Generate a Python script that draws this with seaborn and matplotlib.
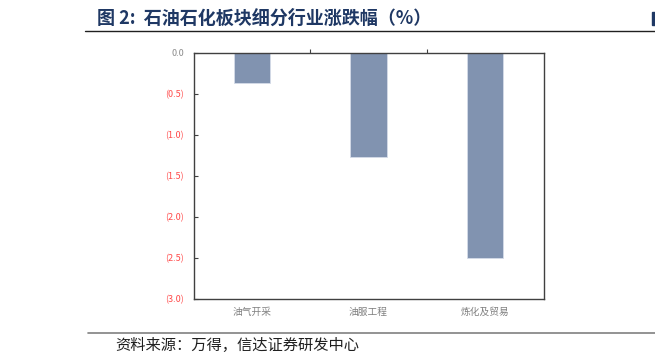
import matplotlib
matplotlib.use("Agg")
import matplotlib.pyplot as plt
import seaborn as sns
import pandas as pd
from matplotlib.ticker import FuncFormatter, FixedLocator

categories = ["油气开采", "油服工程", "炼化及贸易"]
values = [-0.37, -1.27, -2.50]
yticks = [0.0, -0.5, -1.0, -1.5, -2.0, -2.5, -3.0]

sns.set_theme(style="white")
plt.rcParams['font.family'] = ['Noto Sans CJK SC', 'DejaVu Sans']

fig = plt.figure(figsize=(6.55, 3.63), dpi=100)
ax = fig.add_axes([193.5/655, 1-298.5/363, 350/655, (298.5-52.7)/363])

df = pd.DataFrame({"cat": categories, "val": values})
sns.barplot(data=df, x="cat", y="val", order=categories, color="#8193B0",
            saturation=1, width=0.31, ax=ax, edgecolor="#D5DCE8", linewidth=0.6)

ax.set_ylim(-3.0, 0.0)
ax.set_xlim(-0.5, 2.5)
ax.set_yticks(yticks)
ax.yaxis.set_major_formatter(FuncFormatter(
    lambda v, p: "0.0" if abs(v) < 1e-9 else f"({abs(v):.1f})"))
ax.set_xlabel("")
ax.set_ylabel("")

for s in ax.spines.values():
    s.set_visible(True)
    s.set_color("#404040")
    s.set_linewidth(1.0)

ax.tick_params(axis="y", which="major", left=True, direction="in", length=3,
               width=0.8, color="#404040", labelsize=6.5, pad=7)
for lbl, v in zip(ax.get_yticklabels(), yticks):
    lbl.set_color("#8C8C8C" if v == 0 else "#FF4B4B")

ax.tick_params(axis="x", which="major", bottom=False, top=False, length=0,
               labelsize=7, labelcolor="#808080", pad=6)
ax.xaxis.set_minor_locator(FixedLocator([0.5, 1.5]))
ax.tick_params(axis="x", which="minor", top=True, bottom=False, direction="out",
               length=3, width=0.8, color="#404040")

# title and decorations
fig.text(97/655, 1-18/363, "图 2:  石油石化板块细分行业涨跌幅（%）", fontsize=13,
         fontweight="bold", color="#1F3864", va="center", ha="left")
fig.add_artist(plt.Line2D([85/655, 1.0], [1-31/363, 1-31/363], color="#202020",
                          linewidth=1.0, transform=fig.transFigure))
fig.add_artist(plt.Rectangle((652/655, 1-25/363), 3/655, 13/363, color="#1F3864",
                             transform=fig.transFigure))
fig.add_artist(plt.Line2D([88/655, 1.0], [1-333/363, 1-333/363], color="#808080",
                          linewidth=1.2, transform=fig.transFigure))
fig.text(115/655, 1-345/363, "资料来源：万得，信达证券研发中心", fontsize=11,
         color="#202020", va="center", ha="left", style="italic")

fig.savefig("out.png", dpi=100)
